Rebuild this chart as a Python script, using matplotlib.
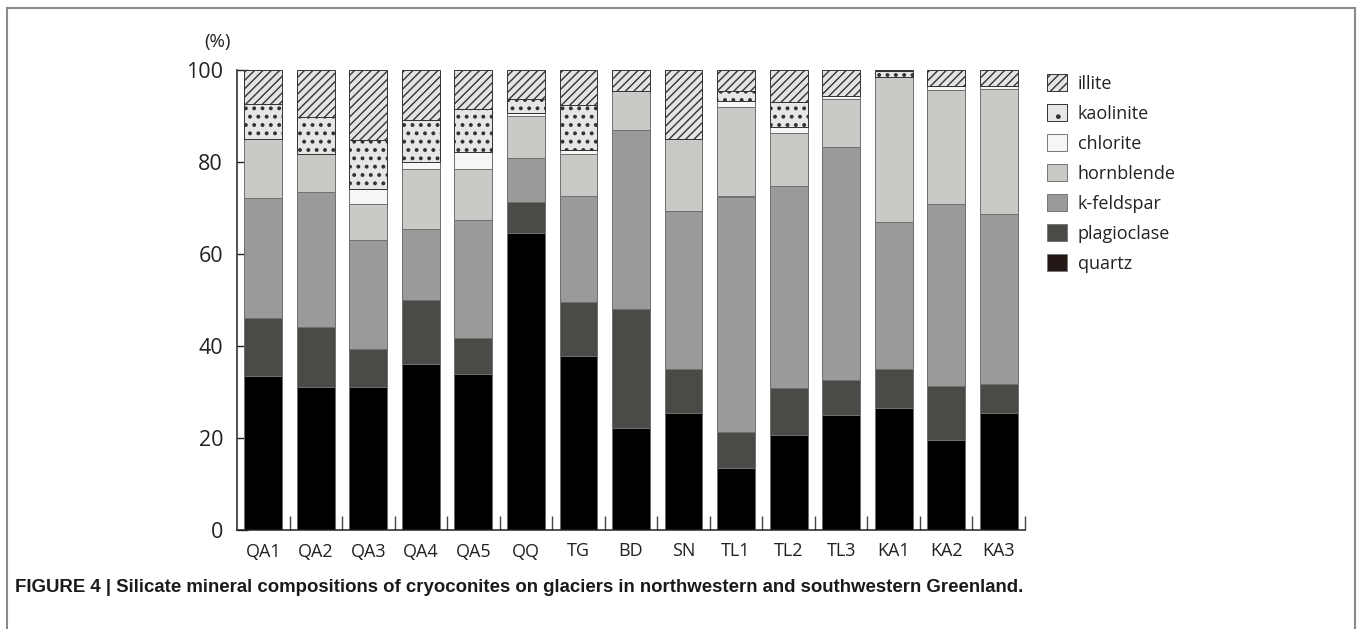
import matplotlib
matplotlib.use('Agg')
import matplotlib.pyplot as plt
from matplotlib.patches import Patch
from matplotlib.lines import Line2D
import numpy as np

sites = ['QA1', 'QA2', 'QA3', 'QA4', 'QA5', 'QQ', 'TG', 'BD', 'SN',
         'TL1', 'TL2', 'TL3', 'KA1', 'KA2', 'KA3']

# percentages, stacked bottom -> top
quartz      = [33.5, 31.0, 31.0, 36.0, 33.9, 64.6, 37.8, 22.2, 25.4, 13.5, 20.7, 25.1, 26.6, 19.5, 25.4]
plagioclase = [12.5, 13.2,  8.3, 13.9,  7.9,  6.8, 11.8, 25.8,  9.5,  7.7, 10.2,  7.5,  8.5, 11.7,  6.3]
k_feldspar  = [26.2, 29.3, 23.7, 15.5, 25.6,  9.4, 23.1, 39.0, 34.4, 51.3, 43.9, 50.7, 31.8, 39.7, 36.9]
hornblende  = [12.9,  8.2,  7.9, 13.0, 11.0,  9.1,  9.0,  8.5, 15.6, 19.5, 11.4, 10.3, 31.5, 24.8, 27.2]
chlorite    = [ 0.0,  0.0,  3.2,  1.5,  3.7,  0.7,  0.9,  0.0,  0.0,  1.3,  1.3,  0.8,  0.0,  0.8,  0.7]
kaolinite   = [ 7.4,  8.0, 10.7,  9.2,  9.5,  3.2,  9.9,  0.0,  0.0,  2.2,  5.5,  0.0,  1.3,  0.0,  0.0]
illite      = [ 7.5, 10.3, 15.2, 10.9,  8.4,  6.2,  7.5,  4.5, 15.1,  4.5,  7.0,  5.6,  0.3,  3.5,  3.5]

# name, values, colour, hatch, hatch line width
layers = [
    ('quartz', quartz, '#000000', None, 1.0),
    ('plagioclase', plagioclase, '#4a4a47', None, 1.0),
    ('k-feldspar', k_feldspar, '#9a9a9a', None, 1.0),
    ('hornblende', hornblende, '#cbc9c6', None, 1.0),
    ('chlorite', chlorite, '#f6f6f6', None, 1.0),
    ('kaolinite', kaolinite, '#e6e6e6', '..', 1.6),
    ('illite', illite, '#e4e4e4', '////', 1.0),
]
legend_colors = {'quartz': '#231815'}
legend_hatch = {'kaolinite': '.'}

plt.rcParams['font.family'] = ['Open Sans', 'DejaVu Sans']

fig = plt.figure(figsize=(13.57, 6.29), dpi=100)
ax = fig.add_axes([237 / 1357, 1 - 530 / 629, (1025 - 237) / 1357, 460 / 629])

x = np.arange(len(sites))
bottom = np.zeros(len(sites))
for name, vals, col, hatch, hlw in layers:
    vals = np.array(vals)
    ec = '#333333' if hatch else '#6f6f6f'
    with plt.rc_context({'hatch.linewidth': hlw}):
        ax.bar(x, vals, 0.72, bottom=bottom, color=col, edgecolor=ec,
               linewidth=0.7, hatch=hatch, zorder=2)
    bottom += vals

ax.set_xlim(-0.5, len(sites) - 0.5)
ax.set_ylim(0, 100)
ax.spines['top'].set_visible(False)
ax.spines['right'].set_visible(False)
for s in ('left', 'bottom'):
    ax.spines[s].set_color('#222222')
    ax.spines[s].set_linewidth(1.1)

ax.set_yticks([0, 20, 40, 60, 80, 100])
ax.tick_params(axis='y', direction='in', length=8, width=1.0, pad=10,
               labelsize=15.5, colors='#222222')
ax.set_xticks(x)
ax.set_xticklabels(sites)
ax.set_xticks(np.arange(0.5, len(sites)), minor=True)
ax.tick_params(axis='x', which='major', length=0, pad=9, labelsize=13, colors='#222222')
ax.tick_params(axis='x', which='minor', direction='in', length=10, width=1.0, color='#444444')

fig.text(218 / 1357, 1 - 42 / 629, '(%)', ha='center', va='center', fontsize=13.5, color='#222222')

handles = []
for name, vals, col, hatch, hlw in reversed(layers):
    with plt.rc_context({'hatch.linewidth': hlw}):
        handles.append(Patch(facecolor=legend_colors.get(name, col),
                             edgecolor='#777777' if not hatch else '#333333',
                             linewidth=0.7, hatch=legend_hatch.get(name, hatch), label=name))
leg = ax.legend(handles=handles, loc='upper left',
                bbox_to_anchor=(1047 / 1357, 1 - 74 / 629),
                bbox_transform=fig.transFigure, frameon=False,
                fontsize=13, handlelength=1.1, handleheight=1.1,
                handletextpad=0.6, labelspacing=0.62, borderpad=0, borderaxespad=0)
for t in leg.get_texts():
    t.set_color('#222222')

fig.text(15 / 1357, 1 - 587 / 629,
         'FIGURE 4 | Silicate mineral compositions of cryoconites on glaciers in '
         'northwestern and southwestern Greenland.',
         ha='left', va='center', fontsize=13.45, fontweight='bold',
         family=['Liberation Sans', 'DejaVu Sans'], color='#1a1a1a')

# figure frame (left, top, right)
fc = '#8a8a8a'
fig.add_artist(Line2D([7 / 1357, 7 / 1357], [0, 1 - 8 / 629], transform=fig.transFigure, color=fc, lw=1.5))
fig.add_artist(Line2D([7 / 1357, 1355 / 1357], [1 - 8 / 629, 1 - 8 / 629], transform=fig.transFigure, color=fc, lw=1.5))
fig.add_artist(Line2D([1355 / 1357, 1355 / 1357], [0, 1 - 8 / 629], transform=fig.transFigure, color=fc, lw=1.5))

fig.savefig('out.png', dpi=100)
